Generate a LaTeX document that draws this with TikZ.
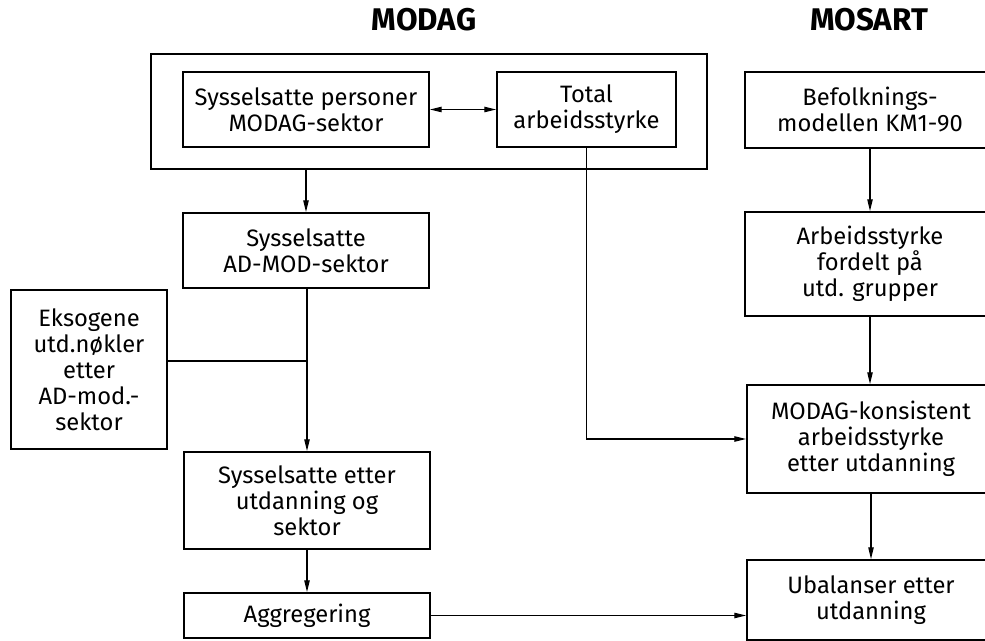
\documentclass[tikz,border=0pt]{standalone}
\usepackage{fontspec}
\setmainfont{Fira Sans}
\usetikzlibrary{arrows.meta}
\begin{document}
\begin{tikzpicture}[x=0.75pt,y=-0.75pt,
  box/.style={draw,line width=1.1pt,align=center,inner sep=0pt,
    font=\fontsize{17.8}{19.5}\selectfont},
  title/.style={font=\fontsize{23.5}{26}\selectfont\bfseries},
  conn/.style={line width=1pt},
  arr/.style={conn,-{Triangle[length=9pt,width=4pt]}},
  darr/.style={conn,{Triangle[length=9pt,width=4pt]}-{Triangle[length=9pt,width=4pt]}}]
\useasboundingbox (0,0) rectangle (985,641);
\clip (0,0) rectangle (985,641);
\node[title] (tmodag) at (424,20) {MODAG};
\node[title] (tmosart) at (869,20) {MOSART};
\node[box,minimum width=417pt,minimum height=86.25pt] (outer) at (429,111.5) {};
\node[box,minimum width=184.5pt,minimum height=56.25pt] (sp) at (306,109.5) {Sysselsatte personer\\MODAG-sektor};
\node[box,minimum width=134.25pt,minimum height=56.25pt] (tot) at (586.5,109.5) {Total\\arbeidsstyrke};
\node[box,minimum width=187.5pt,minimum height=57pt] (bef) at (870,110) {Befolknings-\\modellen KM1-90};
\node[box,minimum width=184.5pt,minimum height=56.25pt] (adm) at (306,250.5) {Sysselsatte\\AD-MOD-sektor};
\node[box,minimum width=187.5pt,minimum height=78pt] (arb) at (870,264) {Arbeidsstyrke\\fordelt på\\utd. grupper};
\node[box,minimum width=117pt,minimum height=119.25pt] (eks) at (89,369.5) {Eksogene\\utd.nøkler\\etter\\AD-mod.-\\sektor};
\node[box,minimum width=184.5pt,minimum height=72.75pt] (seu) at (307,500.5) {Sysselsatte etter\\utdanning og\\sektor};
\node[box,minimum width=184.5pt,minimum height=33.75pt] (agg) at (307,615.5) {Aggregering};
\node[box,minimum width=186pt,minimum height=81pt] (mck) at (871,439) {MODAG-konsistent\\arbeidsstyrke\\etter utdanning};
\node[box,minimum width=186pt,minimum height=60pt] (uba) at (871,600) {Ubalanser etter\\utdanning};
\coordinate (j) at (307,361);
\draw[darr] (sp.east) -- (tot.west);
\draw[arr] (outer.south -| adm.north) -- (adm.north);
\draw[arr] (bef.south) -- (arb.north);
\draw[arr] (tot.south) |- (mck.west);
\draw[arr] (adm.south -| j) -- (seu.north -| j);
\draw[conn] (eks.east |- j) -- (j);
\draw[arr] (seu.south) -- (agg.north);
\draw[arr] (agg.east) -- (agg.east -| uba.west);
\draw[arr] (arb.south) -- (arb.south |- mck.north);
\draw[arr] (mck.south) -- (mck.south |- uba.north);
\end{tikzpicture}
\end{document}
